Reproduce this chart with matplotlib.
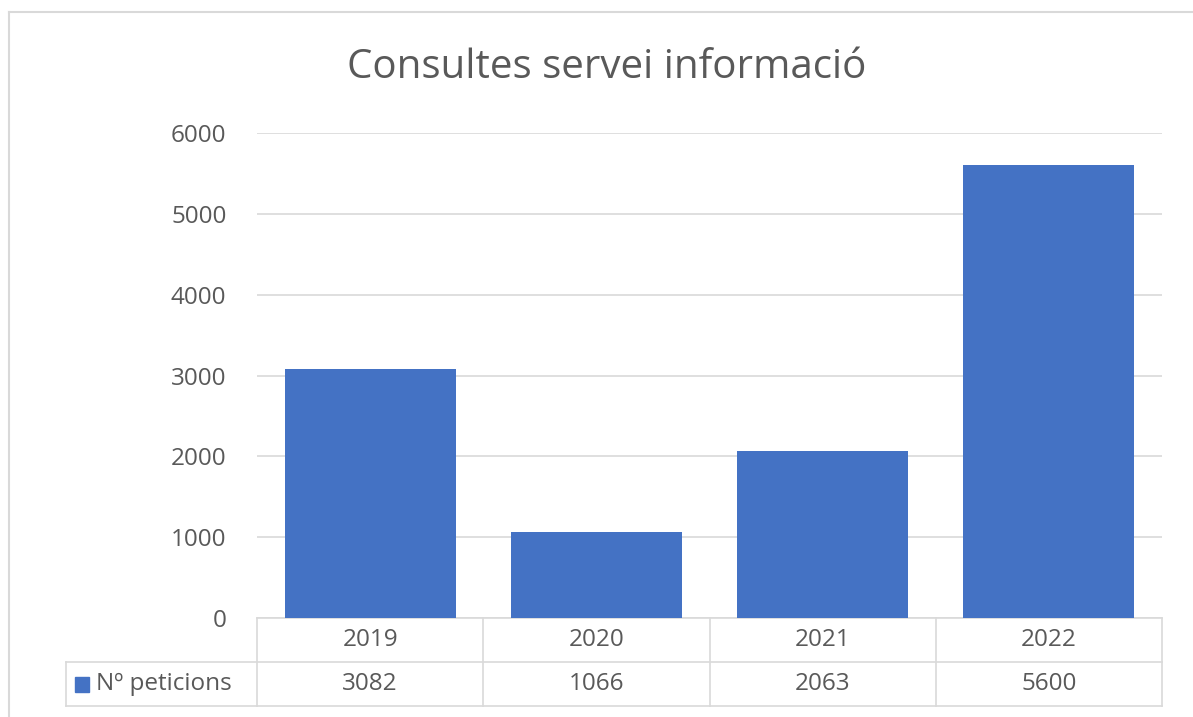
import matplotlib
matplotlib.use("Agg")
import matplotlib.pyplot as plt
from matplotlib.patches import Rectangle
from matplotlib.lines import Line2D
import matplotlib.transforms as mtransforms

plt.rcParams['font.family'] = ['Open Sans', 'DejaVu Sans']

title = "Consultes servei informació"
categories = ["2019", "2020", "2021", "2022"]
values = [3082, 1066, 2063, 5600]
series_name = "Nº peticions"
yticks = [0, 1000, 2000, 3000, 4000, 5000, 6000]

W, H = 1193, 717
fig = plt.figure(figsize=(W / 100, H / 100), dpi=100)
fig.patch.set_facecolor("white")

def fx(px):
    return px / W

def fy(py):
    return 1 - py / H

# outer chart border
border_col = "#D9D9D9"
fig.add_artist(Line2D([fx(9), 1.0], [fy(12), fy(12)], color=border_col, lw=1.5, transform=fig.transFigure))
fig.add_artist(Line2D([fx(9), fx(9)], [fy(12), 0.0], color=border_col, lw=1.5, transform=fig.transFigure))

left, right, top, bottom = 257, 1162, 133, 618
ax = fig.add_axes([fx(left), fy(bottom), fx(right) - fx(left), fy(top) - fy(bottom)])

bar_col = "#4472C4"
grid_col = "#D9D9D9"
text_col = "#595959"
fs = 17.5

x = list(range(len(categories)))
ax.bar(x, values, width=0.755, color=bar_col, zorder=3)
ax.set_xlim(-0.5, len(categories) - 0.5)
ax.set_ylim(0, 6000)
ax.set_yticks(yticks)
ax.set_yticklabels([str(t) for t in yticks], fontsize=fs, color=text_col)
ax.tick_params(axis='y', length=0, pad=22)
ax.set_xticks([])
ax.grid(axis='y', color=grid_col, lw=1.2, zorder=0)
for s in ax.spines.values():
    s.set_visible(False)

# data table
row_h = 44 / (bottom - top)  # in axes fraction
trans = mtransforms.blended_transform_factory(ax.transData, ax.transAxes)
lw = 1.2
ax.add_line(Line2D([-0.5, 3.5], [0, 0], transform=trans, color=grid_col, lw=lw, clip_on=False))
legend_left_px = 66
legend_left = (legend_left_px - left) / (right - left) * 4 - 0.5
ax.add_line(Line2D([legend_left, 3.5], [-row_h, -row_h], transform=trans, color=grid_col, lw=lw, clip_on=False))
ax.add_line(Line2D([legend_left, 3.5], [-2 * row_h, -2 * row_h], transform=trans, color=grid_col, lw=lw, clip_on=False))
for xv in [-0.5, 0.5, 1.5, 2.5, 3.5]:
    ax.add_line(Line2D([xv, xv], [0, -2 * row_h], transform=trans, color=grid_col, lw=lw, clip_on=False))
ax.add_line(Line2D([legend_left, legend_left], [-row_h, -2 * row_h], transform=trans, color=grid_col, lw=lw, clip_on=False))

for i, (c, v) in enumerate(zip(categories, values)):
    ax.text(i, -0.5 * row_h, c, transform=trans, ha='center', va='center', fontsize=fs, color=text_col)
    ax.text(i, -1.5 * row_h, str(v), transform=trans, ha='center', va='center', fontsize=fs, color=text_col)

# legend key + series name
fig.add_artist(Rectangle((fx(75), fy(692)), fx(89) - fx(75), fy(677) - fy(692), color=bar_col, transform=fig.transFigure))
fig.text(fx(96), fy(684), series_name, ha='left', va='center', fontsize=fs, color=text_col)

fig.text(fx(607), fy(68), title, ha='center', va='center', fontsize=29, color=text_col)

fig.savefig("out.png", dpi=100)
